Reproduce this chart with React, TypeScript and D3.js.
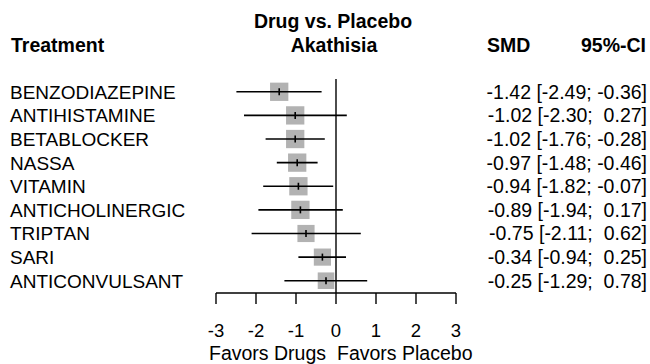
import React from "react";
import * as d3 from "d3";

const treatments = [
  "BENZODIAZEPINE",
  "ANTIHISTAMINE",
  "BETABLOCKER",
  "NASSA",
  "VITAMIN",
  "ANTICHOLINERGIC",
  "TRIPTAN",
  "SARI",
  "ANTICONVULSANT",
];
const smd = [-1.42, -1.02, -1.02, -0.97, -0.94, -0.89, -0.75, -0.34, -0.25];
const lower = [-2.49, -2.3, -1.76, -1.48, -1.82, -1.94, -2.11, -0.94, -1.29];
const upper = [-0.36, 0.27, -0.28, -0.46, -0.07, 0.17, 0.62, 0.25, 0.78];
const weights = [1.0, 1.0, 1.0, 1.0, 1.0, 1.0, 0.88, 0.88, 0.82];
const xTicks = [-3, -2, -1, 0, 1, 2, 3];

const W = 650;
const H = 364;
const FONT = "'Liberation Sans', Arial, Helvetica, sans-serif";
const FS = 19.5;

const locale = d3.formatLocale({
  decimal: ".",
  thousands: ",",
  grouping: [3],
  currency: ["", ""],
  minus: "-",
});
const fmt = locale.format(".2f");
const tickFmt = locale.format("d");

export default function App() {
  const x = d3.scaleLinear().domain([-3, 3]).range([216, 456]);
  const y = d3
    .scaleBand<number>()
    .domain(d3.range(treatments.length))
    .range([79.5, 293])
    .paddingInner(0)
    .paddingOuter(0.02);
  const size = d3.scaleSqrt().domain([0, 1]).range([0, 18.3]);
  const yc = (i: number) => (y(i) as number) + y.bandwidth() / 2;
  const axisY = 293;

  return (
    <svg
      width={W}
      height={H}
      style={{ position: "absolute", left: 0, top: 0, background: "#fff" }}
      fontFamily={FONT}
      fontSize={FS}
    >
      <rect x={0} y={0} width={W} height={H} fill="#fff" />
      {/* headers */}
      <text x={11} y={52} fontWeight="bold">Treatment</text>
      <text x={333} y={28} fontWeight="bold" textAnchor="middle">Drug vs. Placebo</text>
      <text x={334} y={52} fontWeight="bold" textAnchor="middle">Akathisia</text>
      <text x={487} y={52} fontWeight="bold">SMD</text>
      <text x={646} y={52} fontWeight="bold" textAnchor="end">95%-CI</text>

      {/* zero line */}
      <line x1={x(0)} x2={x(0)} y1={79} y2={axisY} stroke="#000" strokeWidth={1.4} />

      {treatments.map((t, i) => {
        const cy = yc(i);
        const s = size(weights[i]);
        const ci =
          fmt(smd[i]) +
          " [" +
          fmt(lower[i]) +
          ";" +
          (upper[i] < 0 ? " " : "  ") +
          fmt(upper[i]) +
          "]";
        return (
          <g key={t}>
            <text x={10} y={cy + 7} fontSize={19}>{t}</text>
            <rect
              x={x(smd[i]) - s / 2}
              y={cy - s / 2}
              width={s}
              height={s}
              fill="#b2b2b2"
            />
            <line
              x1={x(lower[i])}
              x2={x(upper[i])}
              y1={cy}
              y2={cy}
              stroke="#000"
              strokeWidth={1.6}
            />
            <line
              x1={x(smd[i])}
              x2={x(smd[i])}
              y1={cy - 3.5}
              y2={cy + 3.5}
              stroke="#000"
              strokeWidth={1.6}
            />
            <text x={647} y={cy + 7} textAnchor="end" style={{ whiteSpace: "pre" }}>
              {ci}
            </text>
          </g>
        );
      })}

      {/* axis */}
      <line x1={x(-3)} x2={x(3)} y1={axisY} y2={axisY} stroke="#000" strokeWidth={1.4} />
      {xTicks.map((v) => (
        <g key={v}>
          <line x1={x(v)} x2={x(v)} y1={axisY} y2={axisY + 11} stroke="#000" strokeWidth={1.4} />
          <text x={x(v)} y={337} fontSize={18.5} textAnchor="middle">{tickFmt(v)}</text>
        </g>
      ))}
      <text x={326} y={360} textAnchor="end">Favors Drugs</text>
      <text x={337} y={360}>Favors Placebo</text>
    </svg>
  );
}
